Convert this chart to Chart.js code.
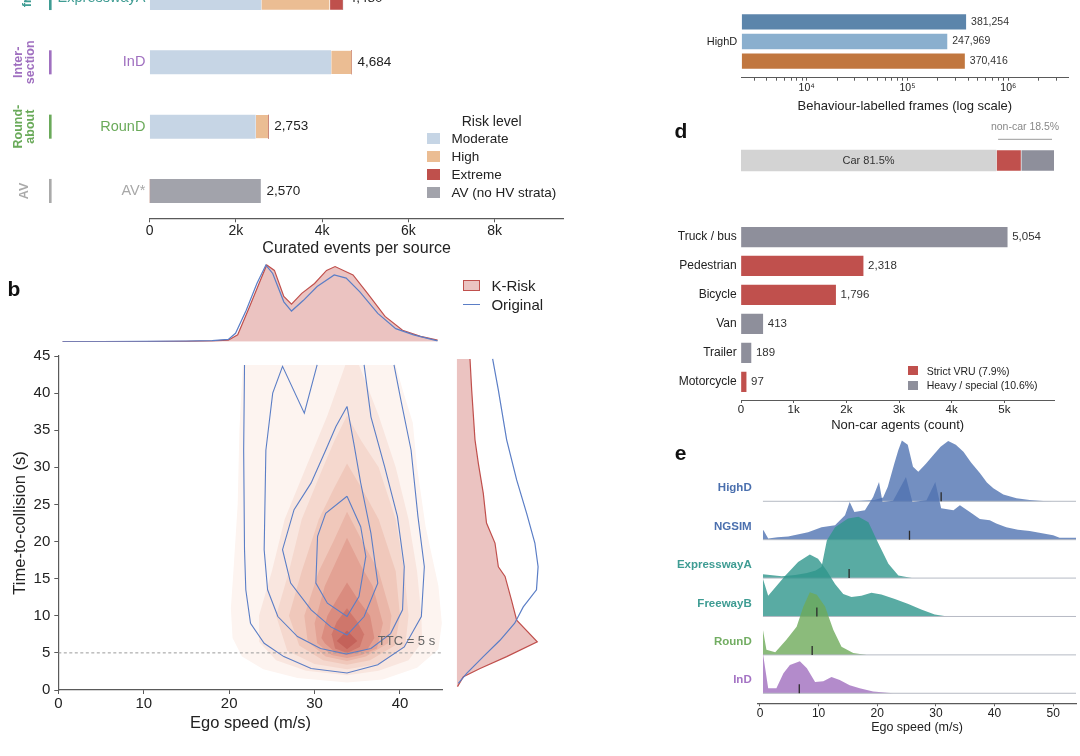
<!DOCTYPE html>
<html lang="en"><head><meta charset="utf-8"><title>K-Risk dataset overview</title>
<script src="https://cdn.jsdelivr.net/npm/chart.js@4.4.1/dist/chart.umd.min.js"></script>
<style>
html,body{margin:0;padding:0;background:#fff}
body{position:relative;width:1080px;height:756px;overflow:hidden}
canvas{position:absolute;display:block}
.t{position:absolute;white-space:nowrap;line-height:1}
.sw{position:absolute;box-sizing:border-box}
</style></head><body>
<script>
/* ================= DATA ================= */
// (a) curated events per source
const aCategories = ['ExpresswayA', 'InD', 'RounD', 'AV*'];
const aModerate = [2580, 4200, 2450, 0];
const aHigh     = [1590, 484, 303, 0];
const aExtreme  = [310, 0, 0, 0];
const aAV       = [0, 0, 0, 2570];
const aTicks    = [0, 2000, 4000, 6000, 8000];
const aRiskLevels = ['Moderate', 'High', 'Extreme', 'AV (no HV strata)'];
const aGroupLabels = [['freeway'], ['Inter-', 'section'], ['Round-', 'about'], ['AV']];
const aGroupSpan = [[-0.44, 0], [1, 1], [2, 2], [3, 3]];

// (b) joint density of ego speed and TTC
const bSpeedTicks = [0, 10, 20, 30, 40];
const bTtcTicks = [0, 5, 10, 15, 20, 25, 30, 35, 40, 45];
const TTC_THRESHOLD = 5;
const kRiskSpeedProfile = [[0.5,0],[5,0],[10,0.002],[15,0.005],[18,0.01],[19.9,0.02],[21,0.09],[22.4,0.46],[23.5,0.76],[24.4,1.0],[25.3,0.93],[26.4,0.59],[27.3,0.49],[28.5,0.63],[30,0.76],[31.4,0.93],[32.4,0.98],[34.5,0.87],[36.2,0.63],[38.25,0.33],[40.3,0.15],[42.4,0.07],[44.4,0.02]];
const origSpeedProfile = [[0.5,0],[5,0],[10,0.003],[15,0.007],[18,0.015],[19.9,0.03],[20.75,0.11],[22,0.41],[23.25,0.76],[24.3,1.0],[25.1,0.89],[26.4,0.52],[27.3,0.40],[28.7,0.54],[30.3,0.72],[32.3,0.87],[33.7,0.83],[35.3,0.65],[37.4,0.37],[39.5,0.17],[41.6,0.09],[44.4,0.01]];
const kRiskTtcProfile = [[0.01,0.45],[0.083,1.8],[0.29,2.9],[0.62,4.5],[1.0,6.5],[0.744,9.4],[0.68,12.1],[0.6,15.3],[0.517,16.6],[0.475,19.8],[0.37,22.5],[0.33,26.5],[0.269,30.5],[0.227,33.7],[0.186,40.4],[0.165,44.6]];
const origTtcProfile = [[0.02,0.9],[0.124,2.25],[0.33,4.5],[0.537,6.7],[0.72,9.0],[0.826,11.2],[0.99,13.5],[1.01,16.6],[0.97,19.8],[0.868,23.8],[0.744,28.3],[0.62,33.7],[0.517,40.4],[0.446,44.6]];
// K-Risk filled density levels (speed, TTC)
const kRiskLevel1 = [[21.6,43.8],[21.2,35],[21,25],[20.5,16],[20.2,11],[20.4,7],[21.5,4.5],[24,2.8],[28,1.6],[33.8,1.0],[38,1.4],[42,3],[44.5,5.5],[44.9,9],[44.5,14],[43,22],[42,30],[41.5,36],[40.3,40.5],[39.5,43.8]];
const kRiskLevel2 = [[33.6,43.8],[35.2,43.8],[37.5,37],[39.5,30],[41,23],[42,16],[42.5,10],[42.6,6.5],[41,4],[37.5,2.6],[33.8,2.0],[29,2.6],[25.5,4],[23.5,6.5],[23.5,10],[25,16],[26.5,23],[29,30],[31.5,37]];
const kRiskLevel3 = [[33.8,37],[35.5,33.5],[37.5,30],[39.5,23],[40.5,16],[41,10],[40.6,5.8],[37.5,3.5],[33.8,2.8],[30,3.5],[26.8,5.3],[25.5,10],[27,16],[28.5,23],[31,30],[32.3,33.5]];
const kRiskLevel4 = [[33.8,30.5],[35.6,27],[37.5,23],[39.5,16],[40,10],[39.4,6],[36.5,4],[33.8,3.4],[31,4],[28.2,6],[27,10],[28.5,16],[30.5,23],[32.2,27]];
const kRiskLevel5 = [[33.8,24],[35.6,20],[37.5,16],[39,10],[38.6,6.3],[36,4.5],[33.8,3.9],[31.3,4.5],[29.2,6.5],[28.8,10],[30.5,16],[32.2,20]];
const kRiskLevel6 = [[33.8,20.5],[35.3,17],[36.8,14],[38,9],[37.3,5.6],[35.5,4.7],[33.8,4.3],[32,4.7],[30.3,6.3],[30,9],[31.2,14],[32.4,17]];
const kRiskLevel7 = [[33.8,14.5],[35.2,12],[36.5,10],[37,7],[36.2,5.5],[35,5],[33.8,4.7],[32.5,5],[31.2,6.3],[30.8,7],[31.5,10],[32.5,12]];
const kRiskLevel8 = [[33.8,11],[35,9.2],[35.8,7.5],[35.3,5.8],[33.8,5.0],[32.4,5.6],[32,7.5],[32.6,9.2]];
const kRiskLevel9 = [[33.8,8],[35,6.6],[33.8,5.5],[32.6,6.6]];
// Original data contour lines (speed, TTC)
const origContour1 = [[21.8,43.8],[21.7,32.3],[21.8,18.9],[21.95,13.5],[22.5,9.0],[24.1,6.3],[26.4,4.5],[29.6,2.9],[33.8,2.3],[37.4,3.4],[40.5,5.8],[42.5,9.9],[42.85,16.6],[42.1,23.4],[41.3,32.3],[40.1,39.1],[39.3,43.8]];
const origContour2 = [[30.3,43.8],[28.8,37.3],[26.25,43.6],[25.1,40],[24.3,32.3],[24.1,18.9],[24.5,13.5],[25.7,9.9],[28,7.2],[30.7,5.6],[33.7,4.85],[36.6,5.6],[38.9,7.6],[40.3,10.8],[40.5,16.6],[39.7,23.4],[38.2,30.1],[36.6,36.8],[35.8,43.8]];
const origContour3 = [[33.8,38.2],[32.5,35.5],[31.3,32.3],[29.6,27.9],[27.6,24.3],[26.25,18.9],[27.2,14.4],[29.6,10.8],[31.9,8.5],[33.8,7.4],[35.8,9.9],[37.4,14.4],[36.6,21.1],[35.4,27.9],[34.6,33.2],[33.8,38.2]];
const origContour4 = [[33.8,26.1],[31.3,23.8],[30.35,20.7],[30.15,14.4],[31.5,11.7],[33.8,9.9],[35.2,12.6],[36.0,18.0],[35.4,22.0],[33.8,26.1]];

// (c) behaviour-labelled frames
const cCategories = ['HighD'];
const cSeriesValues = [381254, 247969, 370416];
const cMajorTicks = [1e4, 1e5, 1e6];
const cTickLabels = ['10\u2074', '10\u2075', '10\u2076'];

// (d) agent composition
const compLabels = ['Car', 'Strict VRU', 'Heavy / special'];
const compShares = [81.5, 7.9, 10.6];
const ncCategories = ['Truck / bus', 'Pedestrian', 'Bicycle', 'Van', 'Trailer', 'Motorcycle'];
const ncCounts = [5054, 2318, 1796, 413, 189, 97];
const ncGroup = [2, 1, 1, 2, 2, 1];   // index into compLabels
const dTicks = [0, 1000, 2000, 3000, 4000, 5000];

// (e) ego speed distributions (speed, relative density)
const ridgeNames = ['HighD', 'NGSIM', 'ExpresswayA', 'FreewayB', 'RounD', 'InD'];
const ridgeHighD = [[0.5,0],[12,0],[17,0.01],[19.5,0.02],[21,0.06],[21.8,0.23],[22.9,0.6],[23.6,0.82],[24.2,0.97],[25.2,0.9],[26.1,0.55],[27,0.47],[28.3,0.6],[29.5,0.73],[30.8,0.87],[32.1,0.96],[33.4,0.9],[34.7,0.79],[36,0.62],[37.5,0.45],[38.7,0.3],[39.8,0.21],[41.5,0.11],[43.75,0.05],[46,0.02],[48.3,0.005],[50,0]];
const ridgeNGSIM = [[0.5,0.15],[0.6,0.15],[1.4,0.02],[3,0.04],[4.8,0.05],[8.2,0.12],[10.5,0.2],[12.8,0.23],[14.5,0.39],[15.3,0.6],[16.1,0.44],[17.9,0.47],[19.3,0.68],[20.3,0.92],[20.9,0.6],[22.7,0.62],[24.9,1.0],[26,0.6],[28.4,0.63],[29.9,0.92],[30.9,0.5],[33,0.47],[34.1,0.55],[35.8,0.44],[37.5,0.33],[39.2,0.31],[40.3,0.26],[42,0.2],[44,0.16],[46,0.14],[50,0.07],[51.1,0.03],[53.9,0.03]];
const ridgeExpresswayA = [[0.5,0.06],[3.7,0.03],[6,0.05],[8,0.08],[9.5,0.12],[10.5,0.18],[11.4,0.6],[12.8,0.81],[15,0.95],[16.8,0.98],[18.5,0.89],[20.2,0.55],[21.9,0.23],[23.6,0.04],[25.9,0]];
const ridgeFreewayB = [[0.5,0.6],[1.4,0.33],[4.3,0.65],[6.5,0.87],[8.5,0.99],[9.9,0.92],[11.4,0.73],[12.8,0.52],[14.2,0.36],[15.6,0.31],[17.3,0.33],[19,0.38],[20.7,0.35],[23,0.28],[25.3,0.2],[27.5,0.11],[29.8,0.03],[32,0]];
const ridgeRounD = [[0.5,0.4],[1.1,0.08],[2.6,0.04],[4.5,0.24],[6.25,0.45],[7.4,0.77],[8.5,1.0],[9.7,0.96],[11.1,0.77],[12.5,0.4],[13.9,0.13],[15.9,0.03],[18.2,0]];
const ridgeInD = [[0.5,0.64],[1.4,0.08],[2.8,0.08],[4,0.32],[5.1,0.45],[6.8,0.51],[8,0.4],[9.4,0.18],[10.8,0.19],[12.2,0.26],[13.6,0.21],[15.3,0.13],[17,0.08],[19.3,0.03],[22.7,0]];
const ridgeMedians = [30.9, 25.5, 15.2, 9.7, 8.9, 6.7];
const eTicks = [0, 10, 20, 30, 40, 50];

/* ================= STYLE ================= */
const FONT = "'Liberation Sans', Arial, Helvetica, sans-serif";
Chart.defaults.font.family = FONT;
Chart.defaults.color = '#222';
const AX = '#5a5a5a';
const A_COLORS = ['#c6d5e5', '#ebbd93', '#bf504c', '#a2a3ab'];
const A_GROUP_COLORS = ['#3f9c93', '#a070c0', '#6aaa5a', '#aaaaaa'];
const A_CAT_COLORS = ['#3f9c93', '#a070c0', '#6aaa5a', '#a8a8a8'];
const KRISK_FILL = '#ebc3c1';
const KRISK_LINE = '#c0504d';
const ORIG_LINE = '#5b7ec6';
const KRISK_LEVEL_COLORS = ['#fdf4f0','#f9e6df','#f5d8ce','#f0c8bb','#eab6a8','#e3a294','#da8c7f','#cf766b','#c4625a'];
const C_COLORS = ['#5c85ab', '#8aafce', '#c1773f'];
const COMP_COLORS = ['#d3d3d3', '#c0504d', '#8e8f9b'];
const RIDGE_FILL = ['rgba(80,115,178,0.8)','rgba(80,115,178,0.8)','rgba(47,150,140,0.8)','rgba(47,150,140,0.8)','rgba(110,170,90,0.8)','rgba(160,110,190,0.8)'];
const RIDGE_LABEL = ['#4a6fae','#4a6fae','#3e9c93','#3e9c93','#72ad62','#a473c4'];
const RIDGE_SCALE = 1.633;
const MEDIAN_TICK = 0.234;

/* ================= HELPERS ================= */
function canvasAt(left, top, w, h) {
  const c = document.createElement('canvas');
  c.width = w; c.height = h;
  c.style.left = left + 'px'; c.style.top = top + 'px';
  c.style.width = w + 'px'; c.style.height = h + 'px';
  document.body.appendChild(c);
  return c;
}
const overlay = [];
function text(s, x, y, size, o = {}) {
  overlay.push(() => {
    const d = document.createElement('div');
    d.className = 't';
    d.textContent = s;
    const ax = o.align === 'center' ? '-50%' : o.align === 'right' ? '-100%' : '0';
    d.style.left = x + 'px'; d.style.top = y + 'px';
    d.style.font = `${o.weight || 'normal'} ${size}px ${FONT}`;
    d.style.color = o.color || '#222';
    d.style.transform = `translate(${ax},-50%)`;
    document.body.appendChild(d);
  });
}
function swatch(x, y, w, h, bg, border) {
  overlay.push(() => {
    const d = document.createElement('div');
    d.className = 'sw';
    d.style.left = x + 'px'; d.style.top = y + 'px';
    d.style.width = w + 'px'; d.style.height = h + 'px';
    d.style.background = bg;
    if (border) d.style.border = '1px solid ' + border;
    document.body.appendChild(d);
  });
}
const setTicks = vals => s => { s.ticks = vals.map(v => ({ value: v })); };
// fix an axis box size and drop the label-overhang padding Chart.js would otherwise reserve
const fixW = w => s => { s.width = w; s.paddingTop = 0; s.paddingBottom = 0; };
const fixH = h => s => { s.height = h; s.paddingLeft = 0; s.paddingRight = 0; };
function common(padding) {
  return { responsive: false, maintainAspectRatio: false, animation: false, devicePixelRatio: 1, events: [],
    layout: { padding }, plugins: { legend: { display: false }, tooltip: { enabled: false } } };
}
const pts = arr => arr.map(([x, y]) => ({ x, y }));
const kfmt = v => v === 0 ? '0' : (v / 1000) + 'k';
const NONE = 'rgba(0,0,0,0)';

/* ================= (a) ================= */
{
  const mk = (label, arr, color, sep) => ({ label, data: arr.map((v, i) => ({ x: v, y: i })), backgroundColor: color,
    barThickness: 23.3, borderColor: '#ffffff', borderSkipped: false,
    borderWidth: sep ? { left: 1, right: 0, top: 0, bottom: 0 } : 0 });
  new Chart(canvasAt(0, -40, 570, 300), {
    type: 'bar',
    data: { datasets: [mk(aRiskLevels[0], aModerate, A_COLORS[0], false), mk(aRiskLevels[1], aHigh, A_COLORS[1], true),
      mk(aRiskLevels[2], aExtreme, A_COLORS[2], true), mk(aRiskLevels[3], aAV, A_COLORS[3], false)] },
    options: { ...common({ top: 0, right: 6.5, bottom: 0, left: 0 }), indexAxis: 'y',
      scales: {
        x: { type: 'linear', stacked: true, min: 0, max: 9600, afterFit: fixH(41.7), afterBuildTicks: setTicks(aTicks),
          ticks: { callback: kfmt, font: { size: 14 }, color: '#222', padding: 0, autoSkip: false, maxRotation: 0 },
          grid: { drawOnChartArea: false, tickLength: 4, color: AX }, border: { color: AX, width: 1.2 },
          title: { display: true, text: 'Curated events per source', font: { size: 16 }, color: '#222', padding: { top: 0, bottom: 2.1 } } },
        y: { type: 'linear', offset: false, stacked: true, reverse: true, min: -0.591, max: 3.425, afterFit: fixW(149.7),
          afterBuildTicks: setTicks(aCategories.map((c, i) => i)),
          ticks: { callback: v => aCategories[v], color: c => A_CAT_COLORS[c.tick.value], font: { size: 14.5 }, padding: 4.3, autoSkip: false },
          grid: { display: false, drawTicks: false }, border: { display: false } }
      } },
    plugins: [{ id: 'aDeco', afterDatasetsDraw(ch) {
      const { ctx, scales: { x, y } } = ch;
      ctx.save();
      ctx.font = `13.5px ${FONT}`; ctx.fillStyle = '#222'; ctx.textAlign = 'left'; ctx.textBaseline = 'middle';
      aCategories.forEach((c, i) => {
        const tot = aModerate[i] + aHigh[i] + aExtreme[i] + aAV[i];
        ctx.fillText(tot.toLocaleString('en-US'), x.getPixelForValue(tot) + 6, y.getPixelForValue(i));
      });
      aGroupSpan.forEach(([a, b], g) => {
        const y0 = y.getPixelForValue(a - 0.187), y1 = y.getPixelForValue(b + 0.187);
        ctx.fillStyle = A_GROUP_COLORS[g];
        ctx.fillRect(49, y0, 2.6, y1 - y0);
        const lines = aGroupLabels[g], lh = 12.5;
        const cy = y.getPixelForValue((a + b) / 2), cx = lines.length === 1 && g === 0 ? 28 : 24.3;
        ctx.save();
        ctx.translate(cx, cy); ctx.rotate(-Math.PI / 2);
        ctx.font = `bold 12.5px ${FONT}`; ctx.textAlign = 'center'; ctx.textBaseline = 'middle';
        lines.forEach((ln, k) => ctx.fillText(ln, 0, (k - (lines.length - 1) / 2) * lh));
        ctx.restore();
      });
      ctx.restore();
    } }]
  });
  text('Risk level', 491.7, 120.7, 14, { align: 'center' });
  aRiskLevels.forEach((lab, i) => {
    const cy = 138.3 + 18 * i;
    swatch(427, cy - 5.75, 12.7, 11.5, A_COLORS[i]);
    text(lab, 451.5, cy, 13.5);
  });
}

/* ================= (b) ================= */
{
  const levels = [kRiskLevel1, kRiskLevel2, kRiskLevel3, kRiskLevel4, kRiskLevel5, kRiskLevel6, kRiskLevel7, kRiskLevel8, kRiskLevel9];
  const contours = [origContour1, origContour2, origContour3, origContour4];
  const ds = [];
  levels.forEach((lv, k) => ds.push({ data: pts(lv), showLine: true, fill: 'shape', backgroundColor: KRISK_LEVEL_COLORS[k],
    borderColor: NONE, borderWidth: 0, pointRadius: 0, order: 30 - k }));
  ds.push({ data: [{ x: 0, y: TTC_THRESHOLD }, { x: 45, y: TTC_THRESHOLD }], showLine: true, fill: false, borderColor: '#9a9a9a',
    borderWidth: 1, borderDash: [3, 2.5], pointRadius: 0, order: 2 });
  contours.forEach(c => ds.push({ data: pts(c), showLine: true, fill: false, borderColor: ORIG_LINE, borderWidth: 1.1, pointRadius: 0, order: 1 }));
  new Chart(canvasAt(0, 340, 460, 400), {
    type: 'scatter', data: { datasets: ds },
    options: { ...common({ top: 16, right: 17.3, bottom: 0, left: 0 }),
      scales: {
        x: { type: 'linear', min: 0, max: 45, afterFit: fixH(50), afterBuildTicks: setTicks(bSpeedTicks),
          ticks: { font: { size: 15 }, color: '#222', padding: 1, autoSkip: false, maxRotation: 0 },
          grid: { drawOnChartArea: false, tickLength: 4, color: AX }, border: { color: AX, width: 1.2 },
          title: { display: true, text: 'Ego speed (m/s)', font: { size: 16.5 }, color: '#222', padding: { top: 0, bottom: 7.1 } } },
        y: { type: 'linear', min: 0, max: 45, afterFit: fixW(58.3), afterBuildTicks: setTicks(bTtcTicks),
          ticks: { font: { size: 15 }, color: '#222', padding: 4, autoSkip: false },
          grid: { drawOnChartArea: false, tickLength: 4, color: AX }, border: { color: AX, width: 1.2 },
          title: { display: true, text: 'Time-to-collision (s)', font: { size: 16.5 }, color: '#222', padding: { top: 10.1, bottom: 0 } } }
      } },
    plugins: [{ id: 'ttcLabel', afterDatasetsDraw(ch) {
      const { ctx, scales: { x, y } } = ch;
      ctx.save(); ctx.font = `13px ${FONT}`; ctx.fillStyle = '#666'; ctx.textAlign = 'left'; ctx.textBaseline = 'middle';
      ctx.fillText(`TTC = ${TTC_THRESHOLD} s`, x.getPixelForValue(37.4), y.getPixelForValue(6.5));
      ctx.restore();
    } }]
  });
  // top marginal
  new Chart(canvasAt(0, 255, 460, 95), {
    type: 'scatter',
    data: { datasets: [
      { data: pts(kRiskSpeedProfile), showLine: true, fill: 'origin', backgroundColor: KRISK_FILL, borderColor: KRISK_LINE, borderWidth: 1.2, pointRadius: 0, order: 2 },
      { data: pts(origSpeedProfile), showLine: true, fill: false, borderColor: ORIG_LINE, borderWidth: 1.2, pointRadius: 0, order: 1 }
    ] },
    options: { ...common({ top: 8.5, right: 17.3, bottom: 8.3, left: 58.3 }),
      scales: { x: { type: 'linear', display: false, min: 0, max: 45 }, y: { type: 'linear', display: false, min: 0, max: 1.02 } } }
  });
  // right marginal
  const kr = kRiskTtcProfile.map(([w, t]) => ({ x: w, y: t }));
  const poly = [...kr, { x: 0, y: kr[kr.length - 1].y }, { x: 0, y: kr[0].y }];
  new Chart(canvasAt(450, 340, 100, 400), {
    type: 'scatter',
    data: { datasets: [
      { data: poly, showLine: true, fill: 'shape', backgroundColor: KRISK_FILL, borderColor: NONE, borderWidth: 0, pointRadius: 0, order: 3 },
      { data: kr, showLine: true, fill: false, borderColor: KRISK_LINE, borderWidth: 1.2, pointRadius: 0, order: 2 },
      { data: origTtcProfile.map(([w, t]) => ({ x: w, y: t })), showLine: true, fill: false, borderColor: ORIG_LINE, borderWidth: 1.2, pointRadius: 0, order: 1 }
    ] },
    options: { ...common({ top: 16, right: 10.3, bottom: 50, left: 6.7 }),
      scales: { x: { type: 'linear', display: false, min: 0, max: 1.03 }, y: { type: 'linear', display: false, min: 0, max: 45 } } }
  });
  text('b', 14, 289, 21, { weight: 'bold', align: 'center', color: '#111' });
  swatch(462.6, 280, 17, 10.7, KRISK_FILL, KRISK_LINE);
  text('K-Risk', 491.4, 285.3, 15);
  swatch(462.6, 303.6, 17, 1.5, ORIG_LINE);
  text('Original', 491.4, 304.3, 15);
}

/* ================= (c) ================= */
{
  const C_MIN = 2265, C_MAX = 3.91e6;
  const tickVals = [];
  for (let e = 3; e <= 6; e++) for (let k = 1; k <= 9; k++) { const v = k * Math.pow(10, e); if (v >= C_MIN && v <= C_MAX) tickVals.push(v); }
  new Chart(canvasAt(660, 0, 420, 116), {
    type: 'bar',
    data: { labels: cCategories, datasets: cSeriesValues.map((v, i) => ({ data: [v], backgroundColor: C_COLORS[i], categoryPercentage: 0.816, barPercentage: 0.78 })) },
    options: { ...common({ top: 5.3, right: 12, bottom: 0, left: 0 }), indexAxis: 'y',
      scales: {
        x: { type: 'logarithmic', min: C_MIN, max: C_MAX, afterFit: fixH(38.3), afterBuildTicks: setTicks(tickVals),
          ticks: { callback: v => { const i = cMajorTicks.indexOf(v); return i >= 0 ? cTickLabels[i] : ''; }, font: { size: 10.5 }, color: '#222', padding: 1, autoSkip: false, maxRotation: 0 },
          grid: { drawOnChartArea: false, tickLength: 3, color: AX }, border: { color: AX, width: 1 },
          title: { display: true, text: 'Behaviour-labelled frames (log scale)', font: { size: 13 }, color: '#222', padding: { top: 0, bottom: 1.5 } } },
        y: { afterFit: fixW(81.7), ticks: { font: { size: 11 }, color: '#222', padding: 4.4 },
          grid: { display: false, drawTicks: false }, border: { display: false } }
      } },
    plugins: [{ id: 'cVals', afterDatasetsDraw(ch) {
      const ctx = ch.ctx; ctx.save(); ctx.font = `10.5px ${FONT}`; ctx.fillStyle = '#333'; ctx.textAlign = 'left'; ctx.textBaseline = 'middle';
      ch.data.datasets.forEach((d, di) => ch.getDatasetMeta(di).data.forEach((bar, i) => ctx.fillText(d.data[i].toLocaleString('en-US'), bar.x + 5, bar.y)));
      ctx.restore();
    } }]
  });
}

/* ================= (d) ================= */
{
  // composition bar
  new Chart(canvasAt(730, 115, 340, 61), {
    type: 'bar',
    data: { labels: ['all'], datasets: compShares.map((v, i) => ({ label: compLabels[i], data: [v], backgroundColor: COMP_COLORS[i], barThickness: 20.7,
      borderColor: '#ffffff', borderSkipped: false, borderWidth: i > 0 ? { left: 1, right: 0, top: 0, bottom: 0 } : 0 })) },
    options: { ...common({ top: 30, right: 16, bottom: 0, left: 11 }), indexAxis: 'y',
      scales: { x: { type: 'linear', stacked: true, display: false, min: 0, max: 100 }, y: { stacked: true, display: false } } },
    plugins: [{ id: 'compText', afterDatasetsDraw(ch) {
      const { ctx, scales: { x, y } } = ch;
      const cy = y.getPixelForValue(0);
      ctx.save(); ctx.textAlign = 'center'; ctx.textBaseline = 'middle';
      ctx.font = `11px ${FONT}`; ctx.fillStyle = '#333';
      ctx.fillText(`${compLabels[0]} ${compShares[0]}%`, x.getPixelForValue(compShares[0] / 2), cy);
      const nonCar = compShares.slice(1).reduce((a, b) => a + b, 0);
      const x0 = x.getPixelForValue(compShares[0]), x1 = x.getPixelForValue(100);
      ctx.font = `10.5px ${FONT}`; ctx.fillStyle = '#888';
      ctx.fillText(`non-car ${nonCar.toFixed(1)}%`, (x0 + x1) / 2, 11.7);
      ctx.strokeStyle = '#9a9a9a'; ctx.lineWidth = 1;
      ctx.beginPath(); ctx.moveTo(x0 + 2, 24.3); ctx.lineTo(x1 - 2, 24.3); ctx.stroke();
      ctx.restore();
    } }]
  });
  // non-car counts
  new Chart(canvasAt(660, 215, 420, 220), {
    type: 'bar',
    data: { datasets: [{ data: ncCounts.map((v, i) => ({ x: v, y: i })), backgroundColor: ncGroup.map(g => COMP_COLORS[g]), barThickness: 19.6, borderWidth: 0 }] },
    options: { ...common({ top: 0, right: 25.7, bottom: 0, left: 0 }), indexAxis: 'y',
      scales: {
        x: { type: 'linear', min: 0, max: 5948, afterFit: fixH(35), afterBuildTicks: setTicks(dTicks),
          ticks: { callback: kfmt, font: { size: 11.5 }, color: '#222', padding: 0, autoSkip: false, maxRotation: 0 },
          grid: { drawOnChartArea: false, tickLength: 3, color: AX }, border: { color: AX, width: 1 },
          title: { display: true, text: 'Non-car agents (count)', font: { size: 13 }, color: '#222', padding: { top: 0, bottom: 2.2 } } },
        y: { type: 'linear', offset: false, reverse: true, min: -0.76, max: 5.627, afterFit: fixW(81), afterBuildTicks: setTicks(ncCategories.map((c, i) => i)),
          ticks: { callback: v => ncCategories[v], font: { size: 12 }, color: '#222', padding: 4.3, autoSkip: false },
          grid: { display: false, drawTicks: false }, border: { display: false } }
      } },
    plugins: [{ id: 'dVals', afterDatasetsDraw(ch) {
      const ctx = ch.ctx; ctx.save(); ctx.font = `11.5px ${FONT}`; ctx.fillStyle = '#333'; ctx.textAlign = 'left'; ctx.textBaseline = 'middle';
      ch.getDatasetMeta(0).data.forEach((bar, i) => ctx.fillText(ncCounts[i].toLocaleString('en-US'), bar.x + 5, bar.y));
      ctx.restore();
    } }]
  });
  text('d', 681, 131, 21, { weight: 'bold', align: 'center', color: '#111' });
  swatch(908.3, 366, 9.4, 9.2, COMP_COLORS[1]);
  text(`${compLabels[1]} (${compShares[1]}%)`, 926.7, 370.7, 10.5);
  swatch(908.3, 380.7, 9.4, 9.2, COMP_COLORS[2]);
  text(`${compLabels[2]} (${compShares[2]}%)`, 926.7, 385.3, 10.5);
}

/* ================= (e) ================= */
{
  const ridges = [ridgeHighD, ridgeNGSIM, ridgeExpresswayA, ridgeFreewayB, ridgeRounD, ridgeInD];
  const n = ridges.length, E_MIN = -0.34, E_MAX = 53.9;
  const ds = [];
  ridges.forEach((arr, i) => {
    const base = n - 1 - i;
    ds.push({ data: arr.map(([x, d]) => ({ x, y: base + d * RIDGE_SCALE })), showLine: true, fill: { value: base },
      backgroundColor: RIDGE_FILL[i], borderColor: NONE, borderWidth: 0, pointRadius: 0, order: 40 - 2 * i });
    ds.push({ data: [{ x: 0.5, y: base }, { x: E_MAX, y: base }], showLine: true, fill: false, borderColor: '#b6bac4', borderWidth: 1, pointRadius: 0, order: 39 - 2 * i });
    ds.push({ data: [{ x: ridgeMedians[i], y: base }, { x: ridgeMedians[i], y: base + MEDIAN_TICK }], showLine: true, fill: false,
      borderColor: '#2b2b2b', borderWidth: 1.3, pointRadius: 0, order: 0 });
  });
  const rowOf = v => n - 1 - Math.round(v - 0.34);
  new Chart(canvasAt(660, 435, 420, 305), {
    type: 'scatter', data: { datasets: ds },
    options: { ...common({ top: 4.86, right: 4, bottom: 0, left: 0 }),
      scales: {
        x: { type: 'linear', min: E_MIN, max: E_MAX, afterFit: fixH(36.74), afterBuildTicks: setTicks(eTicks),
          ticks: { font: { size: 12 }, color: '#222', padding: 0, autoSkip: false, maxRotation: 0 },
          grid: { drawOnChartArea: false, tickLength: 3, color: AX }, border: { color: AX, width: 1.2 },
          title: { display: true, text: 'Ego speed (m/s)', font: { size: 12.5 }, color: '#222', padding: { top: 0, bottom: 5.2 } } },
        y: { type: 'linear', min: -0.26, max: 6.6, afterFit: fixW(98), afterBuildTicks: setTicks(ridgeNames.map((r, i) => n - 1 - i + 0.34)),
          ticks: { callback: v => ridgeNames[rowOf(v)], color: c => RIDGE_LABEL[rowOf(c.tick.value)], font: { size: 11.5, weight: 'bold' }, padding: 6.3, autoSkip: false },
          grid: { display: false, drawTicks: false }, border: { display: false } }
      } }
  });
  text('e', 680.5, 452.7, 21, { weight: 'bold', align: 'center', color: '#111' });
}

overlay.forEach(f => f());
</script>
</body></html>
